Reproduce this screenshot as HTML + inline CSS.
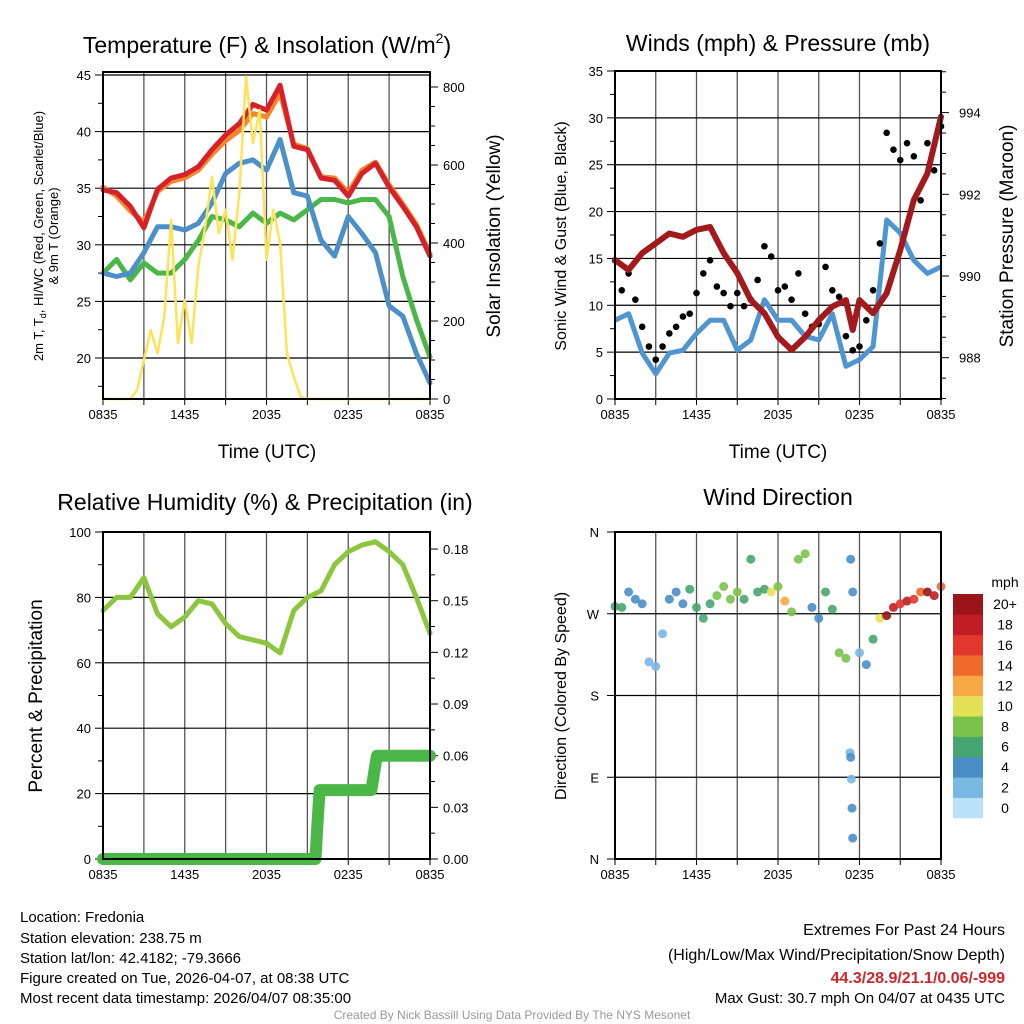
<!DOCTYPE html>
<html><head><meta charset="utf-8"><title>Mesonet Station Charts</title>
<style>
html,body{margin:0;padding:0;background:#fff;}
svg{display:block;font-family:"Liberation Sans",Arial,sans-serif;}
</style></head>
<body>
<svg id="root" width="1024" height="1024" viewBox="0 0 1024 1024" xmlns="http://www.w3.org/2000/svg">
<rect width="1024" height="1024" fill="#fff"/>
<!-- titles -->
<text x="267" y="53" font-size="23" text-anchor="middle">Temperature (F) &amp; Insolation (W/m<tspan font-size="14" dy="-10">2</tspan><tspan dy="10">)</tspan></text>
<text x="778" y="51" font-size="23" text-anchor="middle">Winds (mph) &amp; Pressure (mb)</text>
<text x="265" y="510" font-size="23" text-anchor="middle">Relative Humidity (%) &amp; Precipitation (in)</text>
<text x="778" y="505" font-size="23" text-anchor="middle">Wind Direction</text>
<!-- axis titles -->
<text transform="translate(43,236) rotate(-90)" font-size="13" text-anchor="middle">2m T, T<tspan font-size="9" dy="3">d</tspan><tspan dy="-3">, HI/WC (Red, Green, Scarlet/Blue)</tspan></text>
<text transform="translate(58,236) rotate(-90)" font-size="13" text-anchor="middle">&amp; 9m T (Orange)</text>
<text transform="translate(500,236) rotate(-90)" font-size="19" text-anchor="middle">Solar Insolation (Yellow)</text>
<text x="267" y="458" font-size="19" text-anchor="middle">Time (UTC)</text>
<text transform="translate(566,236) rotate(-90)" font-size="16" text-anchor="middle">Sonic Wind &amp; Gust (Blue, Black)</text>
<text transform="translate(1013,236) rotate(-90)" font-size="19" text-anchor="middle">Station Pressure (Maroon)</text>
<text x="778" y="458" font-size="19" text-anchor="middle">Time (UTC)</text>
<text transform="translate(42,696) rotate(-90)" font-size="19" text-anchor="middle">Percent &amp; Precipitation</text>
<text transform="translate(566,696) rotate(-90)" font-size="16" text-anchor="middle">Direction (Colored By Speed)</text>
<!-- footer -->
<g font-size="15">
<text x="20" y="922">Location: Fredonia</text>
<text x="20" y="943">Station elevation: 238.75 m</text>
<text x="20" y="963">Station lat/lon: 42.4182; -79.3666</text>
<text x="20" y="983">Figure created on Tue, 2026-04-07, at 08:38 UTC</text>
<text x="20" y="1003">Most recent data timestamp: 2026/04/07 08:35:00</text>
</g>
<g font-size="15" text-anchor="end">
<text x="1005" y="935" font-size="16">Extremes For Past 24 Hours</text>
<text x="1005" y="960" font-size="16">(High/Low/Max Wind/Precipitation/Snow Depth)</text>
<text x="1005" y="983" font-size="16" font-weight="bold" fill="#d0262b">44.3/28.9/21.1/0.06/-999</text>
<text x="1005" y="1003">Max Gust: 30.7 mph On 04/07 at 0435 UTC</text>
</g>
<text x="512" y="1019" font-size="12" fill="#999" text-anchor="middle">Created By Nick Bassill Using Data Provided By The NYS Mesonet</text>
</svg>
<script>
// ---------- data ----------
const hours = [0,1,2,3,4,5,6,7,8,9,10,11,12,13,14,15,16,17,18,19,20,21,22,23,24];
const tempRed = [34.85,34.6,33.4,31.5,34.9,35.9,36.2,36.9,38.4,39.7,40.7,42.4,41.9,44.1,38.7,38.4,35.9,35.7,34.3,36.3,37.2,35.1,33.4,31.6,29.0];
const tempOrange = [35.1,34.3,33.0,32.0,34.7,35.6,35.9,36.6,38.0,39.2,40.1,41.6,41.3,43.4,38.9,38.5,36.0,35.9,34.6,36.6,37.3,35.3,33.6,31.8,29.2];
const windChillBlue = [27.5,27.2,27.5,29.3,31.6,31.6,31.3,31.9,33.7,36.3,37.2,37.5,36.6,39.3,34.6,34.3,30.4,29.0,32.5,31.0,29.3,24.6,23.7,20.4,17.8];
const dewGreen = [27.5,28.7,26.9,28.4,27.5,27.5,28.7,30.4,32.5,32.2,31.6,32.8,31.9,32.8,32.2,33.1,34.0,34.0,33.7,34.0,34.0,32.5,27.2,23.4,20.1];
const solarTimes = [0,1,2,2.5,3,3.5,4,4.5,5,5.5,6,6.5,7,7.5,8,8.5,9,9.5,10,10.5,11,11.5,12,12.5,13,13.5,14,14.5,15,24];
const solar = [0,0,0,23,100,177,117,211,459,143,254,143,340,442,570,425,485,357,527,827,656,741,357,485,400,117,57,6,0,0];
const tempTicks = [20,25,30,35,40,45];
const solarTicks = [0,200,400,600,800];
const timeLabels = ["0835","1435","2035","0235","0835"];

const windBlue = [8.4,9.1,4.9,2.7,4.9,5.2,7.0,8.4,8.4,5.2,6.3,10.6,8.4,8.4,6.7,6.3,9.1,3.5,4.2,5.6,19.1,17.7,14.8,13.4,14.1];
const halfHours = [0,0.5,1,1.5,2,2.5,3,3.5,4,4.5,5,5.5,6,6.5,7,7.5,8,8.5,9,9.5,10,10.5,11,11.5,12,12.5,13,13.5,14,14.5,15,15.5,16,16.5,17,17.5,18,18.5,19,19.5,20,20.5,21,21.5,22,22.5,23,23.5,24];
const gusts = [14.8,11.6,13.4,10.6,7.7,5.6,4.2,5.6,7.0,7.7,8.8,9.1,11.3,13.4,14.8,12.0,11.3,9.9,11.3,9.9,10.6,12.7,16.3,15.2,11.6,12.0,10.6,13.4,9.1,7.7,8.0,14.1,11.6,10.9,6.7,5.2,5.6,8.4,11.6,16.6,28.4,26.6,25.5,27.3,25.9,21.2,27.3,24.4,29.1];
const pressureTimes = [0,1,2,3,4,5,6,7,8,9,10,11,12,13,14,15,16,17,17.5,18,19,20,21,22,23,24];
const pressure = [990.39,990.15,990.56,990.8,991.04,990.96,991.13,991.2,990.56,990.07,989.41,989.09,988.51,988.19,988.51,988.92,989.25,989.41,988.68,989.41,989.09,989.58,990.64,991.86,992.51,993.9];
const windTicks = [0,5,10,15,20,25,30,35];
const pressureTicks = [988,990,992,994];

const rh = [76,80,80,86,75,71,74,79,78,72,68,67,66,63,76,80,82,90,94,96,97,94,90,80,69];
const precipTimes = [0,15.6,15.7,15.8,15.9,19.7,19.9,20.1,24];
const precip = [0,0,0.015,0.028,0.04,0.04,0.05,0.06,0.06];
const rhTicks = [0,20,40,60,80,100];
const precipTicks = ["0.00","0.03","0.06","0.09","0.12","0.15","0.18"];

const dirTimes = [0,0.5,1,1.5,2,2.5,3,3.5,4,4.5,5,5.5,6,6.5,7,7.5,8,8.5,9,9.5,10,10.5,11,11.5,12,12.5,13,13.5,14,14.5,15,15.5,16,16.5,17,17.5,18,18.5,19,19.5,20,20.5,21,21.5,22,22.5,23,23.5,24,17.3,17.35,17.4,17.45,17.5,17.35];
const directions = [278,277,294,286,281,217,212,248,286,294,281,297,277,265,281,290,300,286,294,286,330,294,297,294,300,284,272,330,336,277,265,294,275,227,221,294,227,214,242,265,268,277,281,284,286,294,294,290,300,117,112,88,56,23,330];
const dirSpeeds = [7,7,4,4,4,3,2,3,4,4,4,6,7,6,6,8,8,8,8,6,7,6,7,10,9,12,8,8,8,4,4,7,7,8,9,4,2,4,6,10,20,18,17,18,16,14,20,18,14,3,4,2,4,4,4];
const dirLabels = ["N","E","S","W","N"];
const speedColors = ["#b9e2f7","#7ab8e4","#4a8ec7","#47a66f","#7bc24a","#e5e157","#f7a844","#f06a2a","#e0382c","#c21c24","#9a151a"];
const speedLabels = ["0","2","4","6","8","10","12","14","16","18","20+"];

// ---------- helpers ----------
const NS = "http://www.w3.org/2000/svg";
const root = document.getElementById("root");
function el(tag, attrs, parent){
  const e = document.createElementNS(NS, tag);
  for (const k in attrs) e.setAttribute(k, attrs[k]);
  (parent||root).appendChild(e);
  return e;
}
function pathD(xs, ys, fx, fy){
  let d = "";
  for (let i=0;i<xs.length;i++) d += (i?"L":"M") + fx(xs[i]).toFixed(1) + "," + fy(ys[i]).toFixed(1);
  return d;
}

function frame(name, x0, x1, y0, y1){
  const g = el("g", {});
  
  
  // vertical grid every 3h
  for (let i=1;i<8;i++){
    const x = x0 + i*(x1-x0)/8;
    const l = el("line", {x1:x, x2:x, y1:y0, y2:y1, stroke:"#555", "stroke-width":1.3}, g);
    
    
  }
  // bottom ticks
  for (let i=0;i<=8;i++){
    const x = x0 + i*(x1-x0)/8;
    const l = el("line", {x1:x, x2:x, y1:y1, y2:y1+6, stroke:"#000", "stroke-width":1}, g);
    
    
  }
  for (let i=0;i<5;i++){
    const t = el("text", {x:x0 + i*(x1-x0)/4, y:y1+20, "font-size":13, "text-anchor":"middle"}, g);
    t.textContent = timeLabels[i];
    
    
  }
  return g;
}
function hgrid(g, y, x0, x1){
  const l = el("line", {x1:x0, x2:x1, y1:y, y2:y, stroke:"#000", "stroke-width":1.2}, g);
  
  
}
function tick(g, x, y, len, label, anchor, lx){
  const l = el("line", {x1:x, x2:x+len, y1:y, y2:y, stroke:"#000", "stroke-width":1}, g);
  
  
  if (label !== null){
    const t = el("text", {x:lx, y:y+5, "font-size":13, "text-anchor":anchor}, g);
    t.textContent = label;
    
    
  }
}
function border(x0,x1,y0,y1){
  const r = el("rect", {x:x0, y:y0, width:x1-x0, height:y1-y0, fill:"none", stroke:"#000", "stroke-width":2});
  
  
}

// ---------- Panel 1: temperature ----------
{
  const x0=103,x1=430,y0=72,y1=399;
  const X = t => x0 + t*(x1-x0)/24;
  const Y = v => 75 + (45-v)*11.32;
  const YS = w => 399 - w*0.39;
  const g = frame("temperature", x0,x1,y0,y1);
  tempTicks.forEach(v => { hgrid(g, Y(v), x0, x1); tick(g, x0-8, Y(v), 8, String(v), "end", x0-12); });
  for (let v=17.5; v<45; v+=5) tick(g, x0-5, Y(v), 5, null);
  solarTicks.forEach(w => tick(g, x1, YS(w), 8, String(w), "start", x1+13));
  for (let w=50; w<=800; w+=50) if (w%200) tick(g, x1, YS(w), 5, null);
  const series = [
    ["dewpoint-green-line", hours, dewGreen, "#4bb748", 5, Y],
    ["windchill-blue-line", hours, windChillBlue, "#4b90c9", 5, Y],
    ["temp-9m-orange-line", hours, tempOrange, "#f5862c", 5, Y],
    ["temp-2m-red-line", hours, tempRed, "#d7212a", 5, Y],
    ["solar-yellow-line", solarTimes, solar, "#fde35a", 2.5, YS]
  ];
  series.forEach(s => {
    const p = el("path", {d:pathD(s[1], s[2], X, s[5]), fill:"none", stroke:s[3], "stroke-width":s[4], "stroke-linejoin":"round", "stroke-linecap":"round"});
    
    
  });
  border(x0,x1,y0,y1);
}

// ---------- Panel 2: winds ----------
{
  const x0=615,x1=941,y0=71,y1=399;
  const X = t => x0 + t*(x1-x0)/24;
  const Y = v => 399 - v*(328/35);
  const YP = p => 357.7 - (p-988)*40.85;
  const g = frame("winds", x0,x1,y0,y1);
  windTicks.forEach(v => { if (v>0 && v<35) hgrid(g, Y(v), x0, x1); tick(g, x0-8, Y(v), 8, String(v), "end", x0-12); });
  for (let v=2.5; v<35; v+=5) tick(g, x0-5, Y(v), 5, null);
  pressureTicks.forEach(p => tick(g, x1, YP(p), 8, String(p), "start", x1+18));
  for (let p=987; p<=995; p+=0.5) if (p%2) tick(g, x1, YP(p), 5, null);
  const b = el("path", {d:pathD(hours, windBlue, X, Y), fill:"none", stroke:"#4f95d0", "stroke-width":5, "stroke-linejoin":"round"});
  
  
  const gg = el("g", {});
  
  
  gusts.forEach((v,i) => {
    const c = el("circle", {cx:X(halfHours[i]), cy:Y(v), r:3.3, fill:"#000"}, gg);
    
    
  });
  const p = el("path", {d:pathD(pressureTimes, pressure, X, YP), fill:"none", stroke:"#a3191c", "stroke-width":6, "stroke-linejoin":"round", "stroke-linecap":"round"});
  
  
  border(x0,x1,y0,y1);
}

// ---------- Panel 3: humidity ----------
{
  const x0=103,x1=430,y0=532,y1=859;
  const X = t => x0 + t*(x1-x0)/24;
  const Y = v => 859 - v*3.27;
  const YR = r => 859 - r*1722;
  const g = frame("humidity", x0,x1,y0,y1);
  rhTicks.forEach(v => { if (v>0 && v<100) hgrid(g, Y(v), x0, x1); tick(g, x0-8, Y(v), 8, String(v), "end", x0-12); });
  for (let v=10; v<100; v+=20) tick(g, x0-5, Y(v), 5, null);
  precipTicks.forEach(s => tick(g, x1, YR(parseFloat(s)), 8, s, "start", x1+13));
  for (let r=0.015; r<0.18; r+=0.03) tick(g, x1, YR(r), 5, null);
  const pr = el("path", {d:pathD(precipTimes, precip, X, YR), fill:"none", stroke:"#4bb748", "stroke-width":12, "stroke-linejoin":"round", "stroke-linecap":"round"});
  
  
  const l = el("path", {d:pathD(hours, rh, X, Y), fill:"none", stroke:"#8cc63f", "stroke-width":5, "stroke-linejoin":"round", "stroke-linecap":"round"});
  
  
  border(x0,x1,y0,y1);
}

// ---------- Panel 4: wind direction ----------
{
  const x0=615,x1=941,y0=532,y1=859;
  const X = t => x0 + t*(x1-x0)/24;
  const Y = d => 859 - d*(327/360);
  const g = frame("direction", x0,x1,y0,y1);
  dirLabels.forEach((s,i) => { const d = i*90; if (d>0 && d<360) hgrid(g, Y(d), x0, x1); tick(g, x0-8, Y(d), 8, s, "end", x0-16); });
  const pg = el("g", {});
  
  
  directions.forEach((d,i) => {
    const idx = Math.max(0, Math.min(10, Math.floor(dirSpeeds[i]/2)));
    const c = el("circle", {cx:X(dirTimes[i]), cy:Y(d), r:4.5, fill:speedColors[idx], "fill-opacity":0.9}, pg);
    
    
  });
  border(x0,x1,y0,y1);
  // colorbar
  const cb = el("g", {});
  
  
  const bh = (818-594)/11;
  speedColors.forEach((col,i) => {
    const y = 818 - (i+1)*bh;
    const r = el("rect", {x:953, y:y, width:30, height:bh+0.3, fill:col}, cb);
    
    
    const t = el("text", {x:1005, y:y+bh/2+5, "font-size":14, "text-anchor":"middle"}, cb);
    t.textContent = speedLabels[i];
    
    
  });
  const u = el("text", {x:1005, y:587, "font-size":14, "text-anchor":"middle"}, cb);
  u.textContent = "mph";
  
  
}
</script>
</body></html>
